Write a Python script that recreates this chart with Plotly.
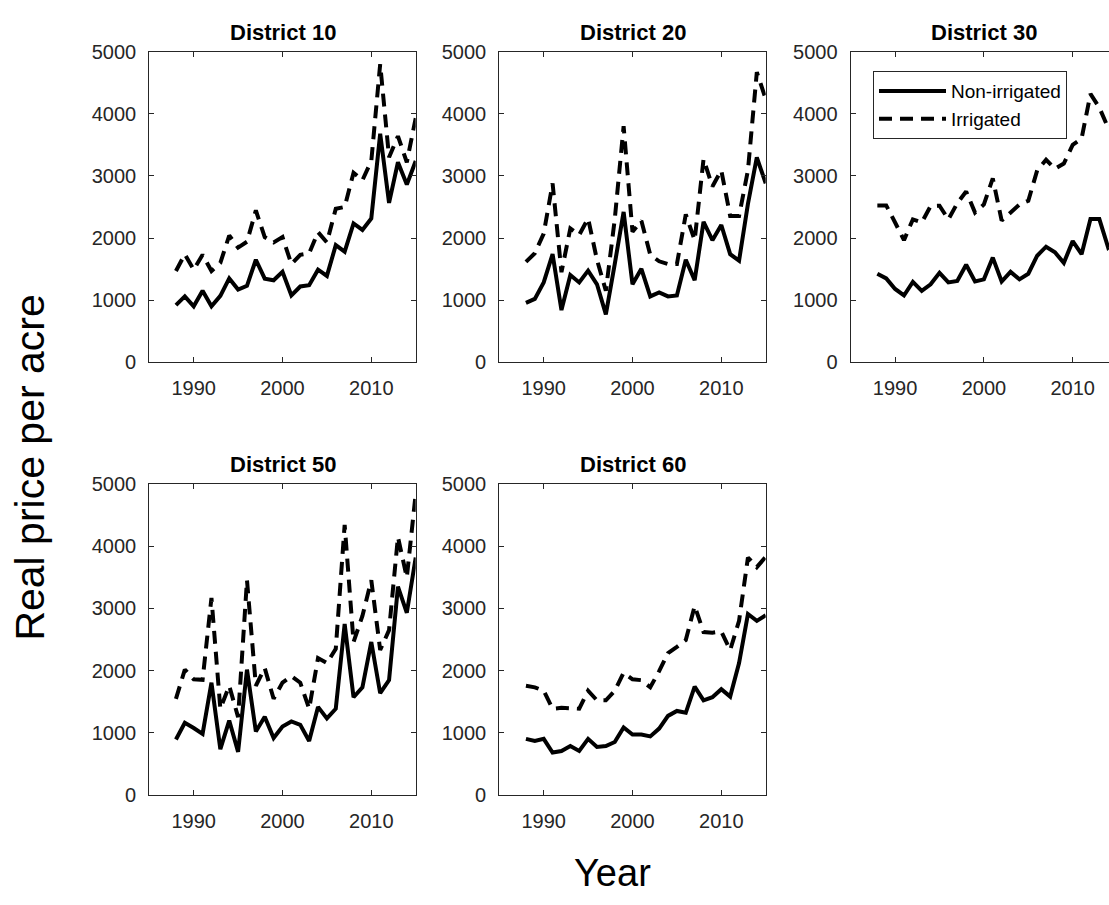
import plotly.graph_objects as go

# ---------------- data ----------------
years = [1988, 1989, 1990, 1991, 1992, 1993, 1994, 1995, 1996, 1997,
         1998, 1999, 2000, 2001, 2002, 2003, 2004, 2005, 2006, 2007,
         2008, 2009, 2010, 2011, 2012, 2013, 2014, 2015]

d10_non = [920, 1060, 900, 1150, 900, 1070, 1350, 1170, 1230, 1650, 1345, 1320, 1455, 1075,
           1220, 1240, 1490, 1390, 1885, 1780, 2235, 2130, 2315, 3680, 2565, 3220, 2860, 3240]
d10_irr = [1470, 1740, 1490, 1730, 1470, 1600, 2040, 1845, 1940, 2445, 2015, 1930, 2015, 1580,
           1730, 1755, 2095, 1930, 2470, 2500, 3050, 2930, 3240, 4800, 3300, 3640, 3220, 3930]

d20_non = [955, 1020, 1285, 1740, 840, 1405, 1285, 1475, 1255, 770, 1580, 2420, 1255, 1505,
           1060, 1125, 1060, 1075, 1650, 1320, 2260, 1965, 2210, 1740, 1635, 2550, 3300, 2880]
d20_irr = [1615, 1755, 2070, 2880, 1450, 2155, 2050, 2315, 1650, 1150, 2300, 3800, 2100, 2280,
           1730, 1625, 1580, 1580, 2380, 1965, 3270, 2830, 3090, 2355, 2355, 3090, 4670, 4240]

d30_non = [1425, 1350, 1180, 1075, 1295, 1150, 1255, 1440, 1285, 1310, 1570, 1300, 1335, 1685,
           1300, 1455, 1335, 1425, 1715, 1860, 1770, 1600, 1950, 1740, 2305, 2305, 1845, 1950]
d30_irr = [2525, 2525, 2250, 1965, 2300, 2250, 2515, 2520, 2300, 2560, 2750, 2410, 2540, 2960,
           2280, 2410, 2540, 2600, 3090, 3260, 3115, 3200, 3500, 3600, 4320, 4100, 3770, 3900]

d50_non = [890, 1160, 1075, 980, 1805, 735, 1195, 690, 2015, 1020, 1255, 915, 1100, 1180,
           1125, 865, 1415, 1230, 1385, 2750, 1570, 1730, 2460, 1635, 1845, 3350, 2930, 3820]
d50_irr = [1545, 2015, 1860, 1850, 3170, 1385, 1755, 1250, 3455, 1755, 2040, 1545, 1805, 1910,
           1805, 1385, 2200, 2120, 2350, 4345, 2460, 2880, 3455, 2330, 2650, 4150, 3500, 4850]

d60_non = [900, 865, 900, 680, 705, 785, 705, 900, 770, 785, 850, 1085, 970, 970,
           940, 1065, 1270, 1350, 1320, 1740, 1520, 1570, 1700, 1580, 2120, 2910, 2800, 2890]
d60_irr = [1755, 1730, 1675, 1385, 1400, 1400, 1385, 1675, 1520, 1520, 1675, 1965, 1860, 1845,
           1730, 1990, 2280, 2380, 2490, 3040, 2620, 2610, 2630, 2330, 2800, 3820, 3665, 3830]

titles = ["District 10", "District 20", "District 30", "District 50", "District 60"]
non_series = [d10_non, d20_non, d30_non, d50_non, d60_non]
irr_series = [d10_irr, d20_irr, d30_irr, d50_irr, d60_irr]
series_names = ["Non-irrigated", "Irrigated"]
x_ticks = [1990, 2000, 2010]
y_ticks = [0, 1000, 2000, 3000, 4000, 5000]

# ---------------- layout geometry (pixels) ----------------
W, H = 1109, 905
cols = [(149.3, 415.7), (499.3, 765.7), (850.7, 1109.0)]
rows = [(41.7, 360.0), (485.0, 803.3)]
grid = [(0, 0), (0, 1), (0, 2), (1, 0), (1, 1)]
px_per_year = 266.4 / 30.0

FONT = "Arial, Liberation Sans, Helvetica, sans-serif"
AX = "#262626"

fig = go.Figure()
layout = dict(
    width=W, height=H, autosize=False,
    margin=dict(l=0, r=0, t=0, b=0),
    paper_bgcolor="white", plot_bgcolor="white",
    font=dict(family=FONT, color=AX),
    showlegend=True,
    legend=dict(
        x=873 / W, y=1 - 61.7 / H, xanchor="left", yanchor="top",
        bgcolor="white", bordercolor=AX, borderwidth=1,
        font=dict(size=19, color="black", family=FONT),
        itemwidth=67, tracegroupgap=0,
    ),
)
annotations = []

for i, (title, non, irr) in enumerate(zip(titles, non_series, irr_series)):
    n = i + 1
    r, c = grid[i]
    xa = "x" if n == 1 else f"x{n}"
    ya = "y" if n == 1 else f"y{n}"
    fig.add_trace(go.Scatter(
        x=years, y=non, mode="lines", name=series_names[0],
        line=dict(color="black", width=4),
        showlegend=(n == 1), legendgroup="non", xaxis=xa, yaxis=ya,
    ))
    fig.add_trace(go.Scatter(
        x=years, y=irr, mode="lines", name=series_names[1],
        line=dict(color="black", width=4, dash="13px,8px"),
        showlegend=(n == 1), legendgroup="irr", xaxis=xa, yaxis=ya,
    ))

    x0, x1 = cols[c]
    yt, yb = rows[r]
    xmax = 1985 + (x1 - x0) / px_per_year
    common = dict(
        showline=True, linecolor=AX, linewidth=1.3,
        ticks="inside", ticklen=5, tickwidth=1.2, tickcolor=AX,
        showgrid=False, zeroline=False,
        tickfont=dict(size=20, color=AX, family=FONT),
        ticklabelstandoff=8,
    )
    layout["xaxis" if n == 1 else f"xaxis{n}"] = dict(
        domain=[x0 / W, x1 / W], anchor=ya, range=[1985, xmax],
        tickmode="array", tickvals=x_ticks, mirror="allticks", **common,
    )
    layout["yaxis" if n == 1 else f"yaxis{n}"] = dict(
        domain=[1 - yb / H, 1 - yt / H], anchor=xa, range=[0, 5000],
        tickmode="array", tickvals=y_ticks,
        mirror=("allticks" if c < 2 else False), **common,
    )
    full_right = x0 + 266.4
    annotations.append(dict(
        text=f"<b>{title}</b>", x=(x0 + full_right) / 2 / W, y=1 - (yt - 20) / H,
        xref="paper", yref="paper", xanchor="center", yanchor="middle",
        showarrow=False, font=dict(size=22, color="black", family=FONT),
    ))

annotations.append(dict(
    text="Year", x=612 / W, y=1 - 883 / H, xref="paper", yref="paper",
    xanchor="center", yanchor="middle", showarrow=False,
    font=dict(size=38, color="black", family=FONT),
))
annotations.append(dict(
    text="Real price per acre", x=30 / W, y=1 - 468 / H, xref="paper", yref="paper",
    xanchor="center", yanchor="middle", showarrow=False, textangle=-90,
    font=dict(size=41, color="black", family=FONT),
))
layout["annotations"] = annotations
fig.update_layout(**layout)

fig.write_html("out.html")
